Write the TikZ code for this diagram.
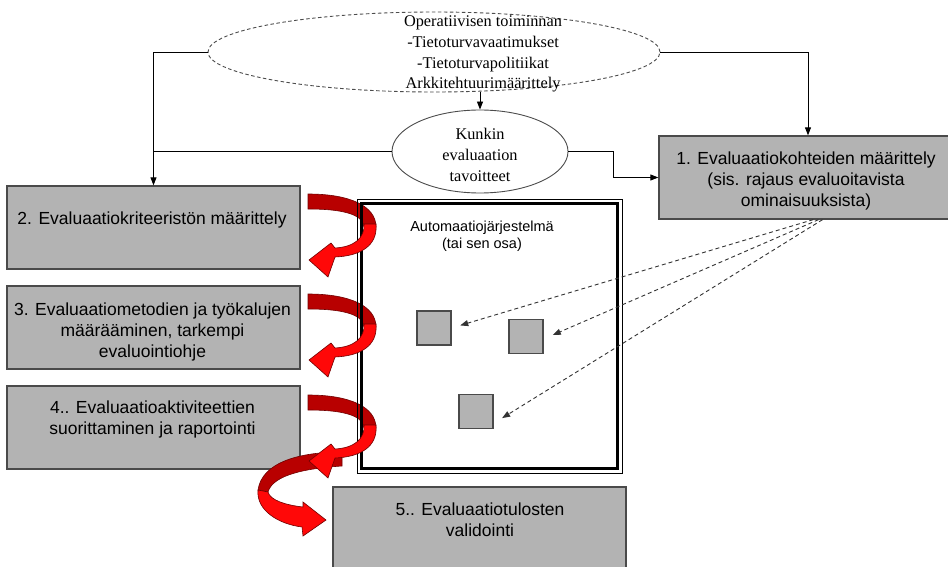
\documentclass[tikz,border=0pt]{standalone}
\usepackage{fontspec}
\setmainfont{Liberation Serif}
\setsansfont{Liberation Sans}
\usetikzlibrary{arrows.meta,shapes.geometric,calc}

\definecolor{boxgray}{HTML}{B3B3B3}
\definecolor{edgegray}{HTML}{4A4A4A}
\definecolor{ribbondark}{HTML}{B80000}
\definecolor{ribbonlight}{HTML}{FF0808}
\definecolor{ribbonedge}{HTML}{700000}

\tikzset{
  stepbox/.style={draw=edgegray, line width=1.3, fill=boxgray, rectangle, inner sep=0},
  unitsq/.style={draw=edgegray, line width=1.2, fill=boxgray, rectangle, minimum size=34, inner sep=0},
  sanstext/.style={font=\sffamily\fontsize{17.5}{21}\selectfont, align=center, inner sep=0, anchor=north},
  smalltext/.style={font=\sffamily\fontsize{14.5}{17.5}\selectfont, align=center, inner sep=0, anchor=north},
  seriftext/.style={font=\rmfamily\fontsize{16.3}{20.8}\selectfont, align=center, inner sep=0, anchor=north},
  conn/.style={draw=black, line width=0.9, -{Triangle[length=8,width=6]}},
  plain/.style={draw=black, line width=0.9},
  dasharrow/.style={draw=black!80, line width=0.9, dash pattern=on 4 off 3, -{Triangle[length=8,width=6]}},
  % turning ribbon arrow, rear half and front half
  pics/twistback/.style={code={
    \filldraw[fill=ribbondark, draw=ribbonedge, line width=0.6]
      (0,0) .. controls (42,0) and (68,12) .. (68,33) -- (56,33)
      .. controls (55,22) and (40,15) .. (0,15) -- cycle;}},
  pics/twistfront/.style={code={
    \filldraw[fill=ribbonlight, draw=ribbonedge, line width=0.6]
      (68,30) .. controls (70,52) and (52,62) .. (27,63) -- (20,83) -- (1,66)
      -- (23,49) -- (27,54) .. controls (46,53) and (57,44) .. (56,30) -- cycle;}},
}

\begin{document}
\begin{tikzpicture}[x=1pt,y=-1pt]
\useasboundingbox (0,0) rectangle (948,567);
\fill[white] (0,0) rectangle (948,567);

% goals and requirements
\node[ellipse, draw=black!70, dash pattern=on 3.5 off 2.5, line width=0.9,
      minimum width=452, minimum height=80, inner sep=0] (goal) at (434,52) {};
\node[seriftext] (goaltxt) at (483,15.5)
  {Operatiivisen toiminnan\\-Tietoturvavaatimukset\\-Tietoturvapolitiikat\\Arkkitehtuurimäärittely};

\node[ellipse, draw=black!70, line width=0.9, fill=white,
      minimum width=176, minimum height=83, inner sep=0] (obj) at (480,151.5) {};
\node[seriftext] (objtxt) at (480,128) {Kunkin\\evaluaation\\tavoitteet};

% process steps
\node[stepbox, minimum width=298, minimum height=83] (b1) at (808,177.5) {};
\node[sanstext] (t1) at (806,152) {1. Evaluaatiokohteiden määrittely\\(sis. rajaus evaluoitavista\\ominaisuuksista)};

\node[stepbox, minimum width=293, minimum height=83] (b2) at (153.5,227.5) {};
\node[sanstext] (t2) at (152,212) {2. Evaluaatiokriteeristön määrittely};

\node[stepbox, minimum width=293, minimum height=83] (b3) at (153.5,327.5) {};
\node[sanstext] (t3) at (152.5,302.5) {3. Evaluaatiometodien ja työkalujen\\määrääminen, tarkempi\\evaluointiohje};

\node[stepbox, minimum width=293, minimum height=83] (b4) at (153.5,427.5) {};
\node[sanstext] (t4) at (152.5,400.5) {4.. Evaluaatioaktiviteettien\\suorittaminen ja raportointi};

\node[stepbox, minimum width=293, minimum height=88] (b5) at (479.5,531) {};
\node[sanstext] (t5) at (480,503) {5.. Evaluaatiotulosten\\validointi};

% connectors from the goals
\draw[conn] (goal.west) -| (b2.north);
\draw[conn] (goal.east) -| (b1.north);
\draw[conn] (obj.north |- goal.south) -- (obj.north);
\draw[plain] (obj.west) -- (obj.west -| b2.north);
\draw[conn] (obj.east) -- ++(45,0) |- (b1.west);

% rear halves of the turning arrows
\pic at (308,194) {twistback};
\pic at (308,294) {twistback};
\pic at (308,395) {twistback};
\filldraw[fill=ribbondark, draw=ribbonedge, line width=0.6]
  (342,452) .. controls (300,452) and (262,462) .. (258,490) -- (268,492)
  .. controls (272,478) and (295,469) .. (342,466) -- cycle;

% the system under evaluation
\node[draw=black, line width=0.9, minimum width=265, minimum height=274, inner sep=0] (sys) at (489.5,336) {};
\draw[line width=3.2] ($(sys.north west)+(5,5)$) rectangle ($(sys.south east)+(-5,-5)$);
\node[smalltext] (systxt) at (482,220.5) {Automaatiojärjestelmä\\(tai sen osa)};

\node[unitsq] (sq1) at (434,328) {};
\node[unitsq] (sq2) at (526,336.5) {};
\node[unitsq] (sq3) at (476,411.5) {};

% front halves of the turning arrows
\pic at (308,194) {twistfront};
\pic at (308,294) {twistfront};
\pic at (308,395) {twistfront};
\filldraw[fill=ribbonlight, draw=ribbonedge, line width=0.6]
  (258,490) .. controls (256,510) and (278,524) .. (302,527) -- (303,536) -- (326,520)
  -- (303,502) -- (303,507) .. controls (285,505) and (270,500) .. (268,492) -- cycle;

% evaluation targets
\draw[dasharrow, shorten >=9] (b1.-83) -- (sq1.east);
\draw[dasharrow, shorten >=10] (b1.-76) -- (sq2.-8);
\draw[dasharrow, shorten >=10] (b1.-71) -- (sq3.-34);
\end{tikzpicture}
\end{document}
